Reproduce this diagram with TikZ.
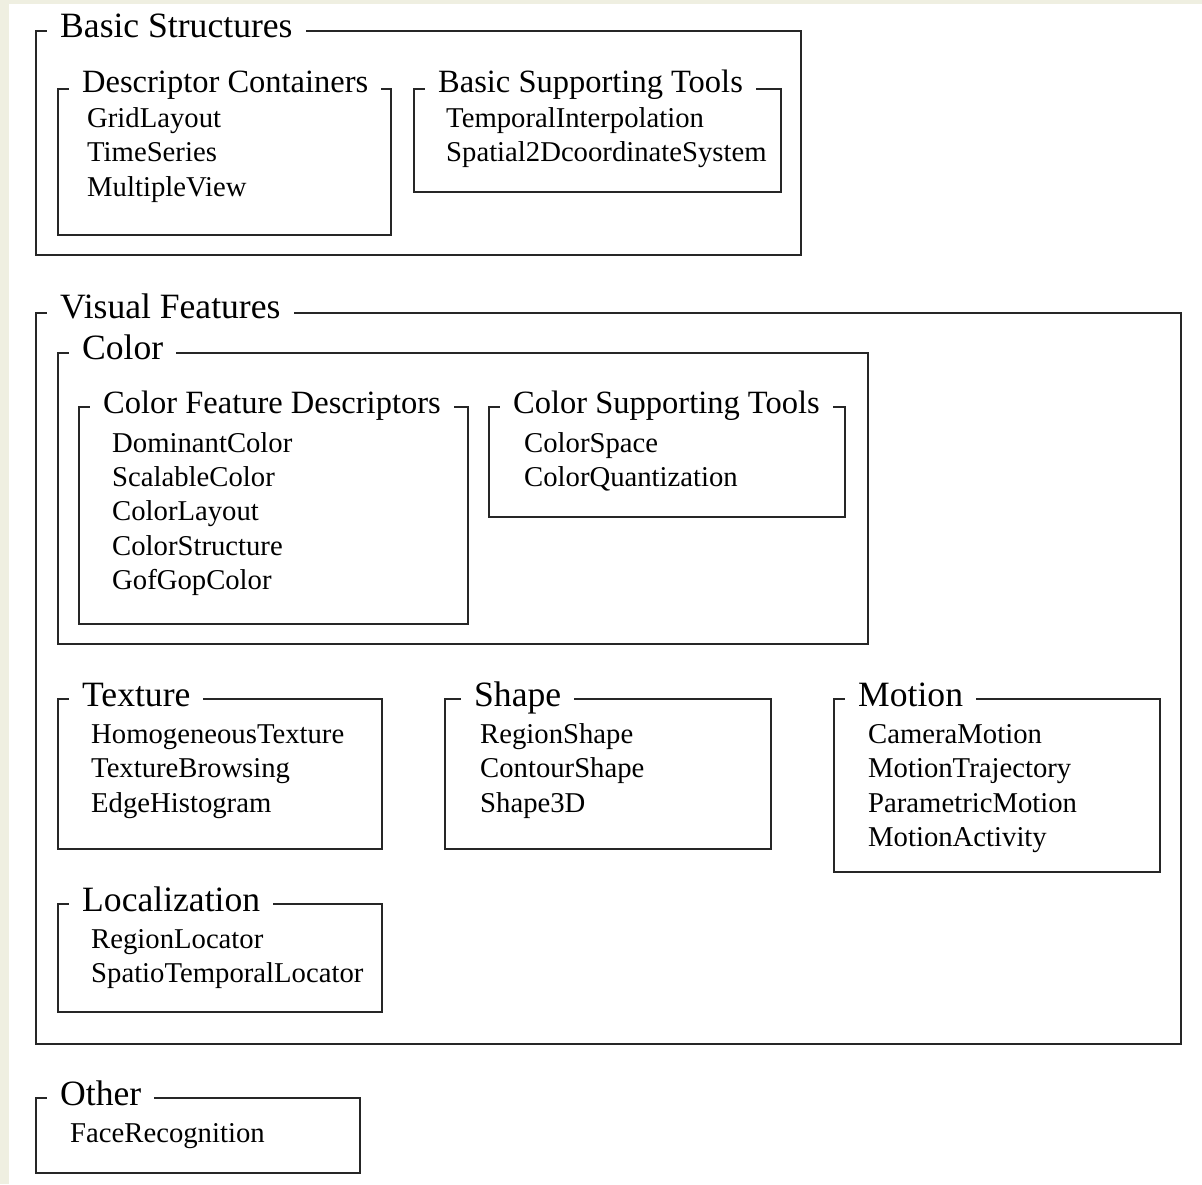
\documentclass[tikz,border=0pt]{standalone}
\usepackage{fontspec}
\setmainfont{Liberation Serif}
\definecolor{paper}{HTML}{EFEFE1}
\begin{document}
\begin{tikzpicture}[
		x=1pt, y=-1pt,
		groupbox/.style={
				rectangle,
				draw=black!85,
				line width=1.9pt,
				anchor=north west,
				inner sep=0pt
			},
		grouptitle/.style={
				fill=white,
				inner xsep=13pt,
				inner ysep=3pt,
				anchor=base west,
				font=\fontsize{35.6}{40}\selectfont
			},
		subtitle/.style={grouptitle, font=\fontsize{32.5}{38}\selectfont},
		item/.style={
				anchor=base west,
				inner sep=0pt,
				font=\fontsize{28.7}{34}\selectfont
			}
	]

	% Background
	\useasboundingbox (0,0) rectangle (1202,1184);
	\fill[paper] (0,0) rectangle (1202,1184);
	\fill[white] (9,4) rectangle (1202,1184);

	% Basic Structures
	\node[groupbox, minimum width=765pt, minimum height=224pt] (basic) at (35,30) {};
	\node[grouptitle] (basictitle) at (47,37) {Basic Structures};

	\node[groupbox, minimum width=333pt, minimum height=146pt] (containers) at (57,88) {};
	\node[subtitle] (containerstitle) at (69,92) {Descriptor Containers};
	\foreach \t [count=\i] in {GridLayout,TimeSeries,MultipleView}
		\node[item] (containers-\i) at (87,127+34.6*\i-34.6) {\t};

	\node[groupbox, minimum width=367pt, minimum height=103pt] (basictools) at (413,88) {};
	\node[subtitle] (basictoolstitle) at (425,92) {Basic Supporting Tools};
	\foreach \t [count=\i] in {TemporalInterpolation,Spatial2DcoordinateSystem}
		\node[item] (basictools-\i) at (446,127+34.6*\i-34.6) {\t};

	% Visual Features
	\node[groupbox, minimum width=1145pt, minimum height=731pt] (visual) at (35,312) {};
	\node[grouptitle] (visualtitle) at (47,318) {Visual Features};

	\node[groupbox, minimum width=810pt, minimum height=291pt] (color) at (57,352) {};
	\node[grouptitle] (colortitle) at (69,359) {Color};

	\node[groupbox, minimum width=389pt, minimum height=217pt] (colordesc) at (78,406) {};
	\node[subtitle] (colordesctitle) at (90,413) {Color Feature Descriptors};
	\foreach \t [count=\i] in {DominantColor,ScalableColor,ColorLayout,ColorStructure,GofGopColor}
		\node[item] (colordesc-\i) at (112,452+34.4*\i-34.4) {\t};

	\node[groupbox, minimum width=356pt, minimum height=110pt] (colortools) at (488,406) {};
	\node[subtitle] (colortoolstitle) at (500,413) {Color Supporting Tools};
	\foreach \t [count=\i] in {ColorSpace,ColorQuantization}
		\node[item] (colortools-\i) at (524,452+34.4*\i-34.4) {\t};

	\node[groupbox, minimum width=324pt, minimum height=150pt] (texture) at (57,698) {};
	\node[grouptitle] (texturetitle) at (69,706) {Texture};
	\foreach \t [count=\i] in {HomogeneousTexture,TextureBrowsing,EdgeHistogram}
		\node[item] (texture-\i) at (91,743+34.6*\i-34.6) {\t};

	\node[groupbox, minimum width=326pt, minimum height=150pt] (shape) at (444,698) {};
	\node[grouptitle] (shapetitle) at (461,706) {Shape};
	\foreach \t [count=\i] in {RegionShape,ContourShape,Shape3D}
		\node[item] (shape-\i) at (480,743+34.6*\i-34.6) {\t};

	\node[groupbox, minimum width=326pt, minimum height=173pt] (motion) at (833,698) {};
	\node[grouptitle] (motiontitle) at (845,706) {Motion};
	\foreach \t [count=\i] in {CameraMotion,MotionTrajectory,ParametricMotion,MotionActivity}
		\node[item] (motion-\i) at (868,743+34.6*\i-34.6) {\t};

	\node[groupbox, minimum width=324pt, minimum height=108pt] (local) at (57,903) {};
	\node[grouptitle] (localtitle) at (69,911) {Localization};
	\foreach \t [count=\i] in {RegionLocator,SpatioTemporalLocator}
		\node[item] (local-\i) at (91,948+34.6*\i-34.6) {\t};

	% Other
	\node[groupbox, minimum width=324pt, minimum height=75pt] (other) at (35,1097) {};
	\node[grouptitle] (othertitle) at (47,1105) {Other};
	\node[item] (other-1) at (70,1142) {FaceRecognition};

\end{tikzpicture}
\end{document}
